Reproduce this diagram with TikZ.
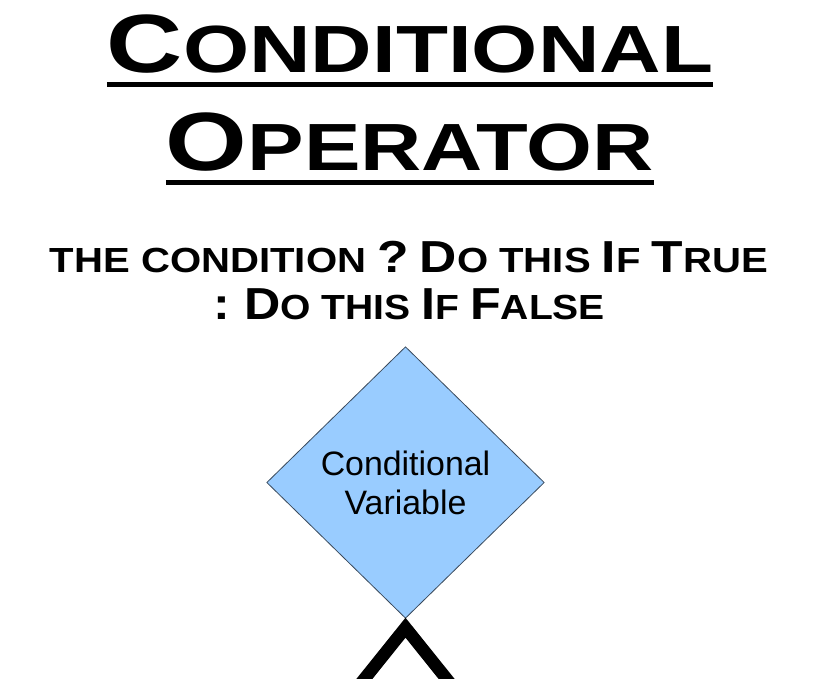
\documentclass[tikz,border=0pt]{standalone}
\usepackage{fontspec}
\usepackage{graphicx}
\usetikzlibrary{shapes.geometric}
\newfontfamily\plate{Liberation Sans}
\newfontfamily\arial{Liberation Sans}
\definecolor{skyblue}{HTML}{99CCFF}
\definecolor{rim}{HTML}{3A4A5C}
\newcommand\ttlcap[1]{{\fontsize{83}{83}\selectfont #1}}
\newcommand\subcap[1]{{\fontsize{45}{45}\selectfont #1}}

\begin{document}
\begin{tikzpicture}[x=1bp,y=-1bp,
  ttl/.style={anchor=base,inner sep=0,font=\plate\bfseries\fontsize{67}{67}\selectfont},
  sub/.style={anchor=base,inner sep=0,font=\plate\bfseries\fontsize{35}{35}\selectfont},
  uline/.style={line width=5bp},
  decision/.style={diamond,draw=rim,line width=0.8bp,fill=skyblue,inner sep=0,
    minimum width=277.6bp,minimum height=271.6bp,align=center,
    font=\arial\fontsize{34}{39}\selectfont},
  hat/.style={line width=12.5bp}]

  \useasboundingbox (0,0) rectangle (814,679);

	%title
    \foreach \name/\txt/\w/\yy in {ttlA/{\ttlcap{C}ONDITIONAL}/606/73,ttlB/{\ttlcap{O}PERATOR}/488/171}{
        \node[ttl] (\name) at (410,\yy) {\resizebox{\w bp}{\height}{\txt}};
        \draw[uline] ([yshift=-11.5bp]\name.base west) -- ([yshift=-11.5bp]\name.base east);
    }

	%syntax
    \foreach \name/\txt/\w/\yy in {askA/{THE CONDITION \subcap{?} \subcap{D}O THIS \subcap{I}F \subcap{T}RUE}/718/272,askB/{\subcap{:} \subcap{D}O THIS \subcap{I}F \subcap{F}ALSE}/392/319}{
        \node[sub] (\name) at (409,\yy) {\resizebox{\w bp}{\height}{\txt}};
    }

	%decision
    \node[decision] (cond) at (405.5,482.5) {Conditional\\Variable};

    \coordinate (tip) at ([yshift=-9bp]cond.south);
    \begin{scope}
        \clip (0,0) rectangle (814,679);
        \draw[hat] (tip) ++(-50,62.3) -- (tip) -- ++(50,62.3);
    \end{scope}

\end{tikzpicture}
\end{document}
